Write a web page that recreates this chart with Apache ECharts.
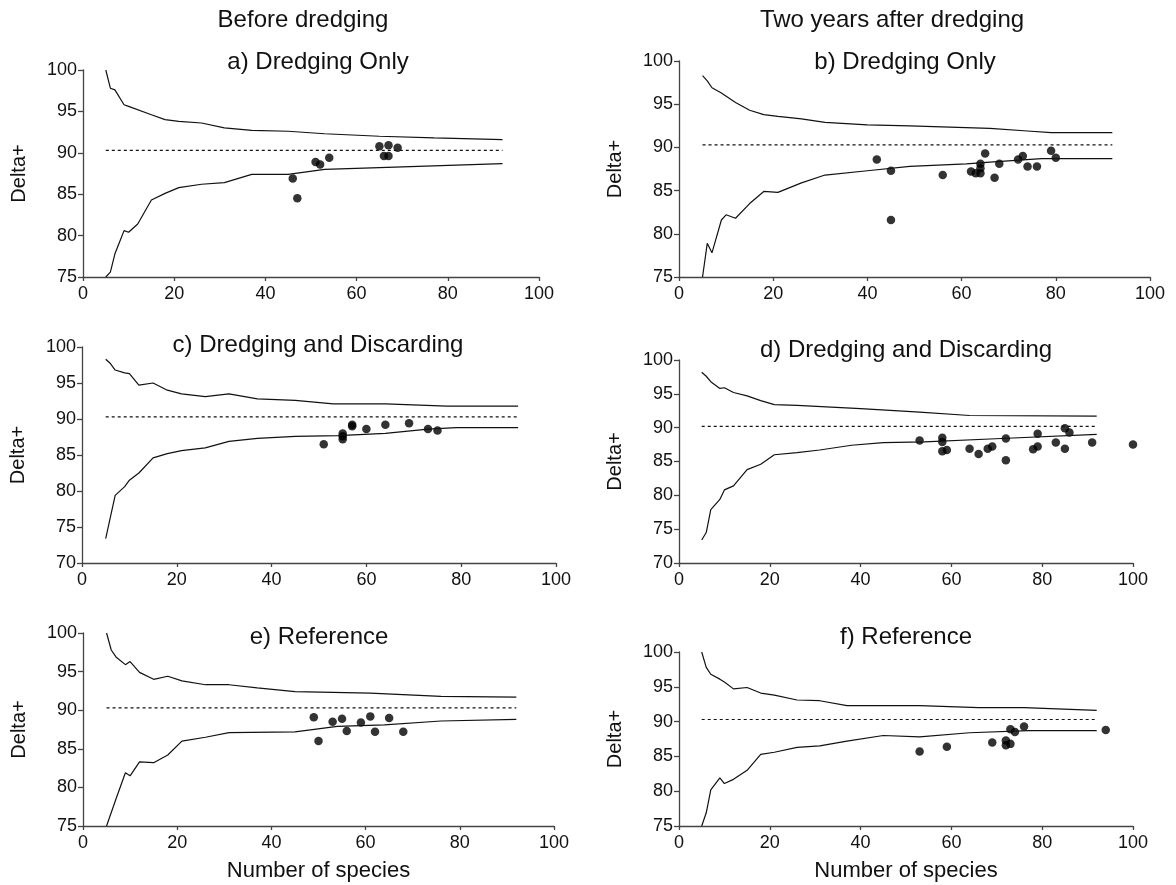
<!DOCTYPE html>
<html>
<head>
<meta charset="utf-8">
<title>Delta+ funnel plots</title>
<script src="https://cdn.jsdelivr.net/npm/echarts@6/dist/echarts.min.js"></script>
<style>
  html, body { margin: 0; padding: 0; background: #fff; }
  #main { width: 1176px; height: 885px; }
</style>
</head>
<body>
<div id="main"></div>
<script>
// ---- data: [number of species, Delta+] ----
var xTicks = [0, 20, 40, 60, 80, 100];
var meanDelta = [90.3, 90.3, 90.3, 90.2, 90.3, 90.3];
var meanFrom = 5, meanTo = 92;

// a) before, dredging only
var aUpper = [[5,100],[6,97.8],[7,97.6],[9,95.8],[10,95.6],[15,94.6],[18,94.0],[21,93.8],[26,93.6],[31,93.0],[37,92.7],[45,92.6],[53,92.3],[65,92.0],[77,91.8],[92,91.6]];
var aLower = [[5,75],[6,75.6],[7,77.8],[8,79.2],[9,80.6],[10,80.4],[12,81.4],[15,84.3],[18,85.1],[21,85.8],[26,86.2],[31,86.4],[37,87.4],[45,87.4],[53,88.0],[65,88.2],[92,88.7]];
var aPoints = [[46,86.9],[47,84.5],[51,88.9],[52,88.6],[54,89.4],[65,90.8],[67,90.9],[66,89.6],[67,89.6],[69,90.6]];

// b) after, dredging only
var bUpper = [[5,98.3],[6,97.7],[7,96.9],[9,96.3],[12,95.2],[15,94.3],[18,93.8],[21,93.6],[26,93.3],[31,92.9],[40,92.6],[49,92.5],[66,92.2],[74,91.9],[79,91.7],[92,91.7]];
var bLower = [[5,75],[6,78.9],[7,77.8],[9,81.6],[10,82.2],[12,81.8],[15,83.5],[18,84.9],[21,84.8],[26,85.9],[31,86.8],[40,87.3],[49,87.8],[61,88.1],[66,88.3],[77,88.7],[92,88.7]];
var bPoints = [[42,88.6],[45,87.3],[45,81.6],[56,86.8],[62,87.2],[63,87.0],[64,87.0],[64,87.6],[64,88.1],[65,89.3],[67,86.5],[68,88.1],[72,88.6],[73,89.0],[74,87.8],[76,87.8],[79,89.6],[80,88.8]];

// c) before, dredging and discarding
var cUpper = [[5,98.3],[6,97.7],[7,96.8],[9,96.4],[10,96.3],[12,94.7],[15,95.0],[18,94.0],[21,93.5],[26,93.1],[31,93.5],[37,92.8],[45,92.6],[53,92.1],[64,92.1],[77,91.8],[92,91.8]];
var cLower = [[5,73.4],[6,76.4],[7,79.4],[9,80.6],[10,81.5],[12,82.5],[15,84.6],[18,85.2],[21,85.6],[26,86.0],[31,86.9],[37,87.3],[45,87.6],[54,87.7],[64,88.0],[73,88.6],[79,88.8],[92,88.8]];
var cPoints = [[51,86.5],[55,87.2],[55,87.6],[55,88.0],[57,89.2],[57,89.0],[60,88.6],[64,89.2],[69,89.4],[73,88.6],[75,88.4]];

// d) after, dredging and discarding
var dUpper = [[5,98.2],[6,97.6],[7,96.8],[9,95.8],[10,95.9],[12,95.2],[15,94.7],[18,94.0],[21,93.4],[26,93.3],[40,92.8],[53,92.3],[64,91.8],[92,91.7]];
var dLower = [[5,73.4],[6,74.5],[7,77.9],[9,79.4],[10,80.8],[12,81.4],[15,83.8],[18,84.6],[21,86.0],[26,86.3],[31,86.7],[38,87.4],[45,87.8],[54,87.9],[71,88.4],[92,89.0]];
var dPoints = [[53,88.1],[58,88.5],[58,87.9],[58,86.5],[59,86.7],[64,86.9],[66,86.1],[68,86.9],[69,87.2],[72,88.4],[72,85.2],[78,86.8],[79,89.1],[79,87.2],[83,87.8],[85,89.9],[85,86.9],[86,89.3],[91,87.8],[100,87.5]];

// e) before, reference
var eUpper = [[5,100],[6,97.8],[7,96.9],[9,95.9],[10,96.3],[12,94.9],[15,94.0],[18,94.4],[21,93.8],[26,93.3],[31,93.3],[37,92.9],[45,92.4],[61,92.2],[76,91.8],[92,91.7]];
var eLower = [[5,75],[7,78.5],[9,81.9],[10,81.5],[12,83.3],[15,83.2],[18,84.2],[21,86.0],[26,86.5],[31,87.1],[45,87.2],[54,87.9],[64,88.1],[76,88.6],[92,88.8]];
var ePoints = [[49,89.1],[50,86.0],[53,88.5],[55,88.9],[56,87.3],[59,88.4],[61,89.2],[62,87.2],[65,89.0],[68,87.2]];

// f) after, reference
var fUpper = [[5,100],[6,97.8],[7,96.8],[9,96.1],[10,95.7],[12,94.7],[15,94.9],[18,94.1],[21,93.8],[26,93.1],[31,93.0],[37,92.3],[53,92.3],[66,92.0],[76,92.0],[92,91.6]];
var fLower = [[5,75],[6,76.9],[7,80.2],[9,81.9],[10,81.1],[12,81.7],[15,83.0],[18,85.3],[21,85.6],[26,86.3],[31,86.5],[37,87.2],[45,88.0],[53,87.8],[64,88.4],[77,88.7],[92,88.7]];
var fPoints = [[53,85.7],[59,86.4],[69,87.0],[72,87.3],[72,86.6],[73,86.8],[73,88.9],[74,88.5],[76,89.3],[94,88.8]];

var titles = ['a) Dredging Only', 'b) Dredging Only', 'c) Dredging and Discarding',
              'd) Dredging and Discarding', 'e) Reference', 'f) Reference'];
var yMins = [75, 75, 70, 70, 75, 75];
var uppers = [aUpper, bUpper, cUpper, dUpper, eUpper, fUpper];
var lowers = [aLower, bLower, cLower, dLower, eLower, fLower];
var points = [aPoints, bPoints, cPoints, dPoints, ePoints, fPoints];

// ---- layout (pixels) ----
var panels = [
  { left: 83,  top: 70,  width: 456, height: 207, tx: 318, ty: 62 },
  { left: 679, top: 61,  width: 471, height: 216, tx: 905, ty: 62 },
  { left: 82,  top: 347, width: 474, height: 216, tx: 318, ty: 345 },
  { left: 679, top: 360, width: 454, height: 203, tx: 906, ty: 350 },
  { left: 83,  top: 633, width: 471, height: 193, tx: 319, ty: 637 },
  { left: 679, top: 652, width: 454, height: 174, tx: 906, ty: 637 }
];

var FONT = '"Liberation Sans", Arial, sans-serif';
var INK = '#111';

var grids = [], xAxes = [], yAxes = [], series = [], texts = [];

panels.forEach(function (p, i) {
  grids.push({ left: p.left, top: p.top, width: p.width, height: p.height });
  xAxes.push({
    type: 'value', gridIndex: i, min: 0, max: 100, interval: 20,
    axisLine: { show: true, lineStyle: { color: '#444', width: 1.3 } },
    axisTick: { show: true, length: 4, lineStyle: { color: '#444', width: 1.3 } },
    axisLabel: { fontSize: 18, color: INK, fontFamily: FONT, margin: 8 },
    splitLine: { show: false },
    name: i >= 4 ? 'Number of species' : '',
    nameLocation: 'middle', nameGap: 34,
    nameTextStyle: { fontSize: 22, color: INK, fontFamily: FONT }
  });
  yAxes.push({
    type: 'value', gridIndex: i, min: yMins[i], max: 100, interval: 5,
    axisLine: { show: true, lineStyle: { color: '#444', width: 1.3 } },
    axisTick: { show: true, length: 5, lineStyle: { color: '#444', width: 1.3 } },
    axisLabel: { fontSize: 18, color: INK, fontFamily: FONT, margin: 6 },
    splitLine: { show: false },
    name: 'Delta+', nameLocation: 'middle', nameGap: 54,
    nameTextStyle: { fontSize: 20, color: INK, fontFamily: FONT }
  });

  series.push({
    type: 'line', xAxisIndex: i, yAxisIndex: i, data: uppers[i],
    symbol: 'none', clip: true, silent: true,
    lineStyle: { color: INK, width: 1.2 }
  });
  series.push({
    type: 'line', xAxisIndex: i, yAxisIndex: i, data: lowers[i],
    symbol: 'none', clip: true, silent: true,
    lineStyle: { color: INK, width: 1.2 }
  });
  series.push({
    type: 'line', xAxisIndex: i, yAxisIndex: i,
    data: [[meanFrom, meanDelta[i]], [meanTo, meanDelta[i]]],
    symbol: 'none', silent: true,
    lineStyle: { color: INK, width: 1.2, type: [3, 3] }
  });
  series.push({
    type: 'scatter', xAxisIndex: i, yAxisIndex: i, data: points[i],
    symbolSize: 8.5, itemStyle: { color: '#000' }
  });

  texts.push({
    type: 'text', x: p.tx, y: p.ty,
    style: { text: titles[i], font: '24px ' + FONT, fill: INK,
             align: 'center', verticalAlign: 'middle',
             textAlign: 'center', textVerticalAlign: 'middle' }
  });
});

// column headers
texts.push({
  type: 'text', x: 303, y: 20,
  style: { text: 'Before dredging', font: '24px ' + FONT, fill: INK,
           align: 'center', verticalAlign: 'middle', textAlign: 'center', textVerticalAlign: 'middle' }
});
texts.push({
  type: 'text', x: 892, y: 20,
  style: { text: 'Two years after dredging', font: '24px ' + FONT, fill: INK,
           align: 'center', verticalAlign: 'middle', textAlign: 'center', textVerticalAlign: 'middle' }
});

var myChart = echarts.init(document.getElementById('main'));
myChart.setOption({
  animation: false,
  backgroundColor: '#fff',
  grid: grids,
  xAxis: xAxes,
  yAxis: yAxes,
  series: series,
  graphic: texts
});
</script>
</body>
</html>
